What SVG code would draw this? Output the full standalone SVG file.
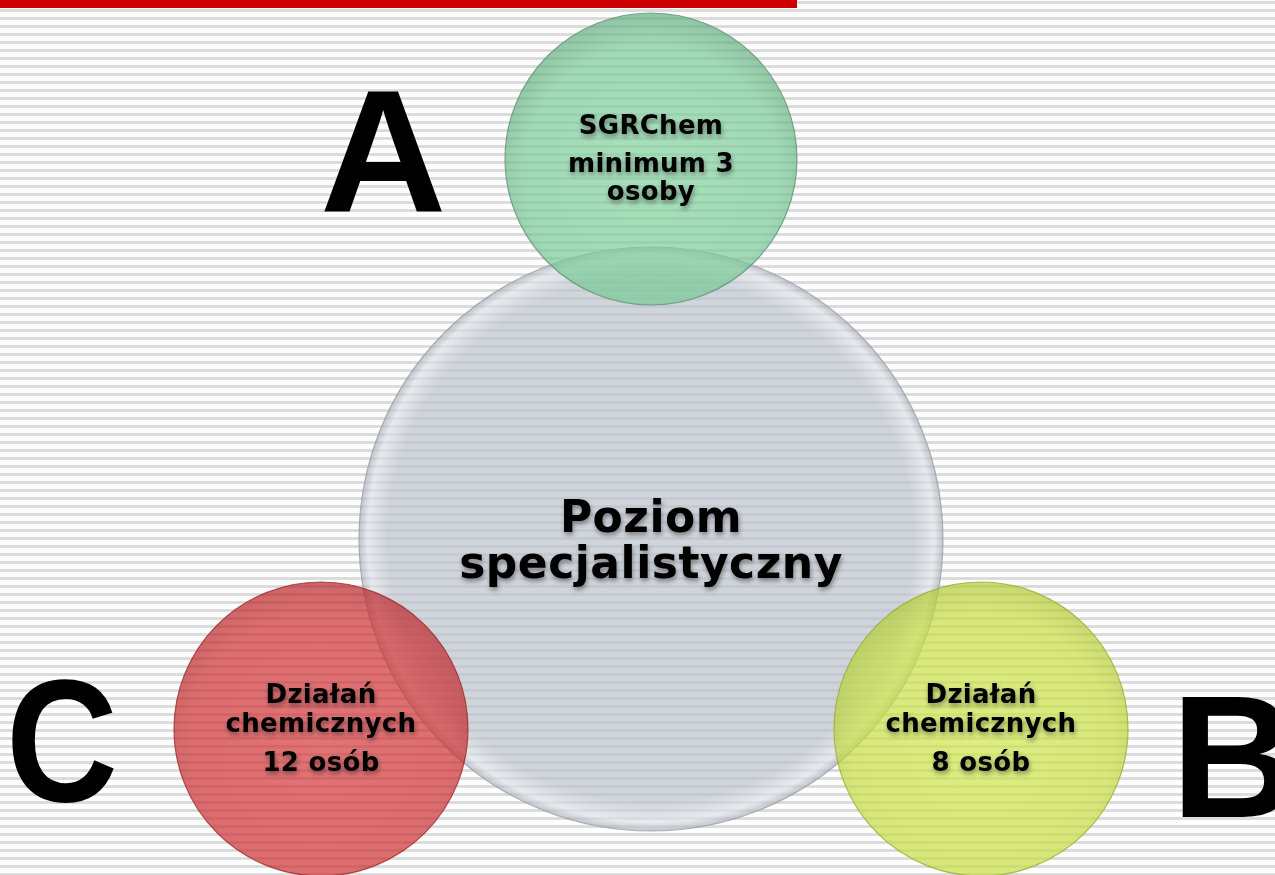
<svg xmlns="http://www.w3.org/2000/svg" width="1275" height="875" viewBox="0 0 1275 875">
<defs>
<pattern id="stripes" x="0" y="1" width="8" height="8" patternUnits="userSpaceOnUse">
<rect x="0" y="0" width="8" height="3" fill="#dcdcdc"/>
</pattern>
<filter id="tshadow" x="-10%" y="-30%" width="120%" height="160%">
<feDropShadow dx="1" dy="3" stdDeviation="2.5" flood-color="#000" flood-opacity="0.4"/>
</filter>
<radialGradient id="gGreen" cx="0.5" cy="0.55" r="0.55">
<stop offset="0" stop-color="#84d29f"/>
<stop offset="0.8" stop-color="#7ac997"/>
<stop offset="1" stop-color="#62ab7e"/>
</radialGradient>
<radialGradient id="gGrey" cx="0.5" cy="0.5" r="0.5">
<stop offset="0" stop-color="#bcc3cd"/>
<stop offset="0.9" stop-color="#bcc3cd"/>
<stop offset="0.97" stop-color="#dde1e6"/>
<stop offset="1" stop-color="#aab0b8"/>
</radialGradient>
<radialGradient id="gRed" cx="0.5" cy="0.55" r="0.55">
<stop offset="0" stop-color="#d5383b"/>
<stop offset="0.8" stop-color="#cd3033"/>
<stop offset="1" stop-color="#b82528"/>
</radialGradient>
<radialGradient id="gYellow" cx="0.5" cy="0.55" r="0.55">
<stop offset="0" stop-color="#cfe64c"/>
<stop offset="0.8" stop-color="#c7de44"/>
<stop offset="1" stop-color="#b2c935"/>
</radialGradient>
<style>
.ring{fill-opacity:0.7;stroke-width:1.2;stroke-opacity:0.8}
.t{font-family:"DejaVu Sans","Verdana",sans-serif;font-weight:bold;fill:#000;text-anchor:middle;filter:url(#tshadow)}
.s{font-size:26px;letter-spacing:0.3px}
.b{font-size:44px;letter-spacing:0.5px}
.big{font-family:"Liberation Sans",Arial,sans-serif;font-weight:bold;font-size:175px;fill:#000}
</style>
</defs>
<rect x="0" y="0" width="1275" height="875" fill="#ffffff"/>
<rect x="0" y="0" width="1275" height="875" fill="url(#stripes)"/>
<rect x="0" y="0" width="797" height="8" fill="#cc0000"/>

<g id="label-A"><text class="big" x="320" y="212">A</text></g>
<g id="label-C"><text class="big" x="6" y="801" textLength="112" lengthAdjust="spacingAndGlyphs">C</text></g>
<g id="label-B"><text class="big" x="1171" y="817">B</text></g>

<g id="connectors"></g>

<g id="node-center">
<circle class="ring" cx="651" cy="539" r="292" fill="url(#gGrey)" stroke="#9aa0a8"/>
<text class="t b" x="651" y="532">Poziom</text>
<text class="t b" x="651" y="578">specjalistyczny</text>
</g>

<g id="node-A">
<circle class="ring" cx="651" cy="159" r="146" fill="url(#gGreen)" stroke="#5f9474"/>
<text class="t s" x="651" y="134">SGRChem</text>
<text class="t s" x="651" y="172">minimum 3</text>
<text class="t s" x="651" y="200">osoby</text>
</g>

<g id="node-C">
<circle class="ring" cx="321" cy="729" r="147" fill="url(#gRed)" stroke="#a0282b"/>
<text class="t s" x="321" y="703">Działań</text>
<text class="t s" x="321" y="732">chemicznych</text>
<text class="t s" x="321" y="771">12 osób</text>
</g>

<g id="node-B">
<circle class="ring" cx="981" cy="729" r="147" fill="url(#gYellow)" stroke="#98ad30"/>
<text class="t s" x="981" y="703">Działań</text>
<text class="t s" x="981" y="732">chemicznych</text>
<text class="t s" x="981" y="771">8 osób</text>
</g>
</svg>
